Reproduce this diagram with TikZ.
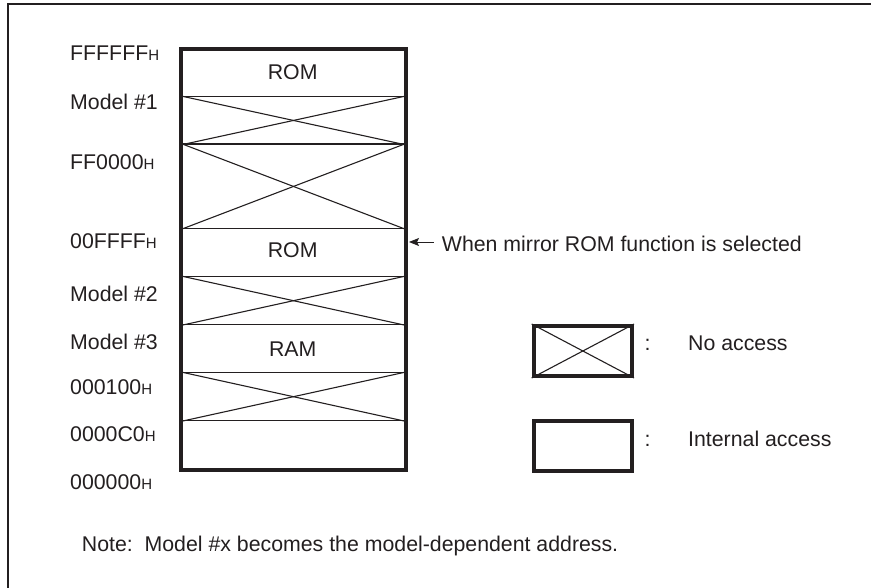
\documentclass[tikz,border=0pt]{standalone}
\usepackage{fontspec}
\setmainfont{Liberation Sans}
\usetikzlibrary{arrows.meta}
\definecolor{ink}{HTML}{231F20}
\newcommand{\hsuf}{{\fontsize{15}{15}\selectfont H}}
\tikzset{
  lbl/.style={anchor=base west, inner sep=0pt, text=ink, font=\fontsize{21.3}{21.3}\selectfont},
  seg/.style={draw=ink, line width=1.4pt, rectangle, minimum width=223.5pt, inner sep=0pt, anchor=north west},
  segtxt/.style={inner sep=0pt, anchor=base, text=ink, font=\fontsize{21.3}{21.3}\selectfont},
  outer/.style={draw=ink, line width=4pt},
  xline/.style={draw=ink, line width=1.1pt},
  legbox/.style={draw=ink, line width=4pt, rectangle, minimum width=98.3pt, minimum height=50pt, inner sep=0pt, anchor=north west},
}
\begin{document}
\begin{tikzpicture}[x=1pt,y=-1pt]
\clip (0,0) rectangle (871,588);
\fill[white] (0,0) rectangle (871,588);
% outer frame (only top/left visible)
\draw[ink, line width=1.8pt] (8,4) rectangle (960,680);

% memory map segments
\node[seg, minimum height=46.5pt] (s1) at (181,49.5) {};
\node[seg, minimum height=47.5pt] (s2) at (181,96) {};
\node[seg, minimum height=84.5pt] (s3) at (181,143.5) {};
\node[seg, minimum height=48pt] (s4) at (181,228) {};
\node[seg, minimum height=48pt] (s5) at (181,276) {};
\node[seg, minimum height=48pt] (s6) at (181,324) {};
\node[seg, minimum height=48pt] (s7) at (181,372) {};
\node[seg, minimum height=49pt] (s8) at (181,420) {};
\foreach \s in {s2,s3,s5,s7}{
  \draw[xline] (\s.north west) -- (\s.south east);
  \draw[xline] (\s.south west) -- (\s.north east);
}
\draw[outer] (s1.north west) rectangle (s8.south east);

\node[segtxt] (rom1) at (292.7,80) {ROM};
\node[segtxt] (rom2) at (292.7,257.7) {ROM};
\node[segtxt] (ram) at (292.7,356.7) {RAM};

% address labels
\node[lbl] (a1) at (70,60.7) {FFFFFF\hsuf};
\node[lbl] (a2) at (70,110) {Model \#1};
\node[lbl] (a3) at (70,170) {FF0000\hsuf};
\node[lbl] (a4) at (70,248.3) {00FFFF\hsuf};
\node[lbl] (a5) at (70,301.7) {Model \#2};
\node[lbl] (a6) at (70,350) {Model \#3};
\node[lbl] (a7) at (70,395) {000100\hsuf};
\node[lbl] (a8) at (70,441.7) {0000C0\hsuf};
\node[lbl] (a9) at (70,489) {000000\hsuf};

% mirror annotation
\node[lbl] (mir) at (441.7,251.7) {When mirror ROM function is selected};
\coordinate (tipend) at (409,242);
\draw[ink, line width=0.9pt, -{Stealth[length=10pt,width=8pt,inset=2pt]}] (mir.west |- 0,242) ++(-8,0) -- (tipend);

% legend
\node[legbox] (lx) at (531.7,324) {};
\draw[xline] (lx.north west) -- (lx.south east);
\draw[xline] (lx.south west) -- (lx.north east);
\node[legbox] (li) at (531.7,419) {};
\node[lbl] (c1) at (644.5,350.7) {:};
\node[lbl] (c2) at (644.5,446) {:};
\node[lbl] (t1) at (688,350.7) {No access};
\node[lbl] (t2) at (688,446) {Internal access};

% note
\node[lbl] (note) at (81.7,551.7) {Note:\ \ Model \#x becomes the model-dependent address.};
\end{tikzpicture}
\end{document}
